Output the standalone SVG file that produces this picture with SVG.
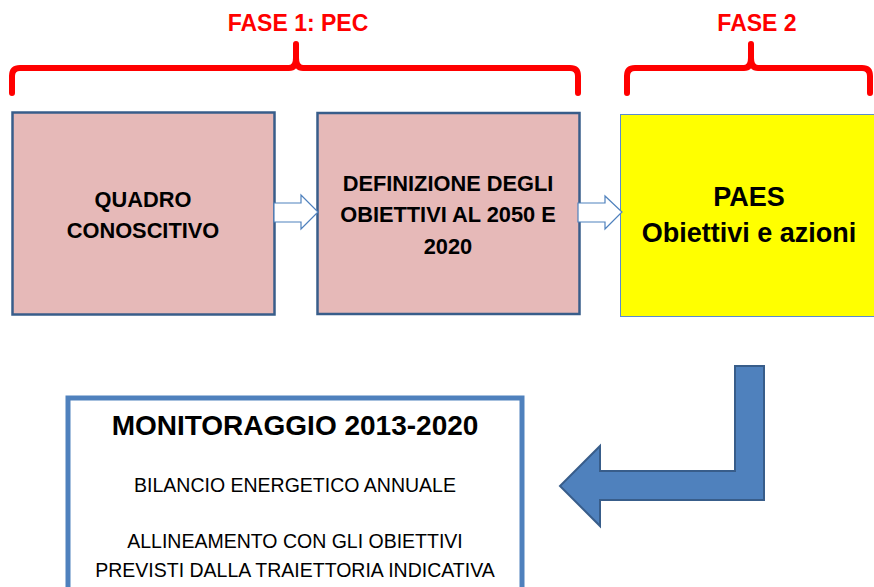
<svg xmlns="http://www.w3.org/2000/svg" width="874" height="587" viewBox="0 0 874 587">
<style>
.brace{fill:none;stroke:#FF0000;stroke-width:6;stroke-linecap:round;stroke-linejoin:round}
.phase{font-family:"Liberation Sans",Arial,sans-serif;font-weight:bold;font-size:23px;fill:#FF0000;text-anchor:middle}
.pink{fill:#E6B9B8;stroke:#385D8A;stroke-width:2.5}
.lbl{font-family:"Liberation Sans",Arial,sans-serif;font-weight:bold;font-size:21.8px;fill:#000;text-anchor:middle}
.small-arrow{fill:#FFFFFF;stroke:#4F81BD;stroke-width:1.2;stroke-linejoin:miter}
.reg{font-family:"Liberation Sans",Arial,sans-serif;font-size:19.5px;fill:#000;text-anchor:middle}
</style>
<rect width="874" height="587" fill="#FFFFFF"/>
<g id="fase1">
<path class="brace" d="M12 93 L12 76 Q12 68 20 68 L289 68 Q296 68 296 58 L296 44 M296 58 Q296 68 303 68 L570 68 Q578 68 578 76 L578 93"/>
<text class="phase" x="298" y="31">FASE 1: PEC</text>
</g>
<g id="fase2">
<path class="brace" d="M627 93 L627 76 Q627 68 635 68 L744 68 Q751 68 751 58 L751 44 M751 58 Q751 68 758 68 L862 68 Q870 68 870 76 L870 93"/>
<text class="phase" x="757" y="31">FASE 2</text>
</g>
<g id="quadro">
<rect class="pink" x="12.5" y="112.5" width="262" height="202"/>
<text class="lbl" x="143" y="207">QUADRO</text>
<text class="lbl" x="143" y="238">CONOSCITIVO</text>
</g>
<g id="definizione">
<rect class="pink" x="317.5" y="113" width="262" height="201"/>
<text class="lbl" x="448" y="191">DEFINIZIONE DEGLI</text>
<text class="lbl" x="448" y="222">OBIETTIVI AL 2050 E</text>
<text class="lbl" x="448" y="254">2020</text>
</g>
<g id="paes">
<rect x="620.5" y="114.5" width="260" height="202" fill="#FFFF00" stroke="#5B8BD0" stroke-width="1"/>
<text x="749" y="206" font-family="'Liberation Sans',Arial,sans-serif" font-weight="bold" font-size="27" text-anchor="middle">PAES</text>
<text x="749" y="242" font-family="'Liberation Sans',Arial,sans-serif" font-weight="bold" font-size="27" text-anchor="middle">Obiettivi e azioni</text>
</g>
<g id="monitoraggio">
<rect x="68" y="398" width="454" height="200" fill="#FFFFFF" stroke="#4F81BD" stroke-width="5"/>
<text x="295" y="435" font-family="'Liberation Sans',Arial,sans-serif" font-weight="bold" font-size="28" text-anchor="middle">MONITORAGGIO 2013-2020</text>
<text class="reg" x="295" y="492">BILANCIO ENERGETICO ANNUALE</text>
<text class="reg" x="295" y="548">ALLINEAMENTO CON GLI OBIETTIVI</text>
<text class="reg" x="295" y="577">PREVISTI DALLA TRAIETTORIA INDICATIVA</text>
</g>
<g id="connectors">
<path class="small-arrow" d="M274 203 L301 203 L301 195 L318 212 L301 229 L301 222 L274 222 Z"/>
<path class="small-arrow" d="M578 203 L605 203 L605 196 L622 212 L605 229 L605 222 L578 222 Z"/>
<path d="M735 366 L764 366 L764 500 L600 500 L600 526 L560 486 L600 446 L600 471 L735 471 Z" fill="#4F81BD" stroke="#385D8A" stroke-width="2" stroke-linejoin="miter"/>
</g>
</svg>
